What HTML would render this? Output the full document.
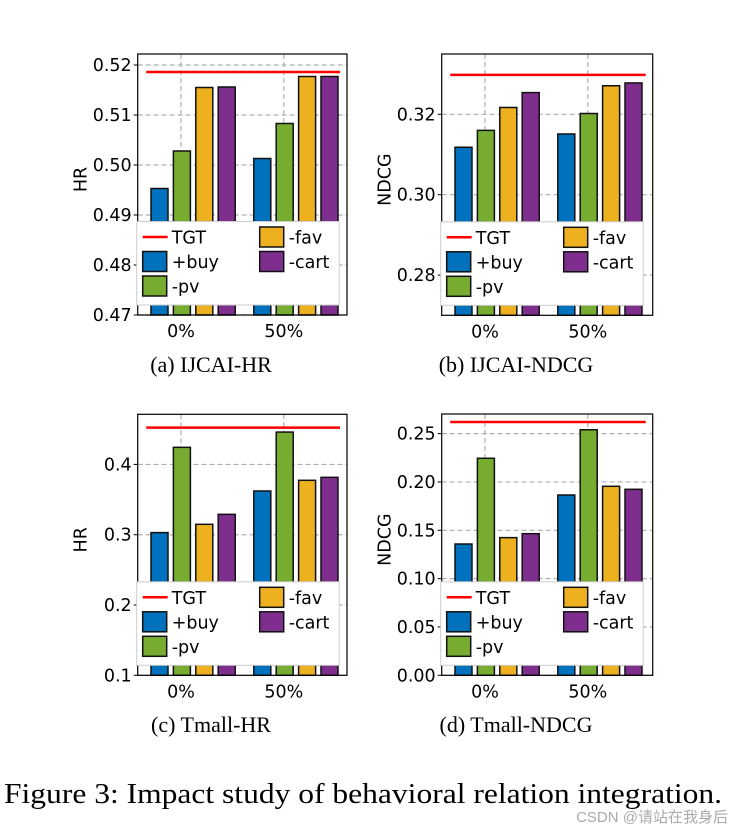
<!DOCTYPE html>
<html><head><meta charset="utf-8"><style>
body{margin:0;background:#fff;width:744px;height:833px;overflow:hidden}
svg text{font-family:"DejaVu Sans","Liberation Sans",sans-serif}
</style></head><body>
<svg id="fig" width="744" height="833" xmlns="http://www.w3.org/2000/svg">
<text x="211" y="372" font-size="22" text-anchor="middle" style="font-family:'Liberation Serif',serif">(a)  IJCAI-HR</text>
<text x="516" y="372" font-size="22" text-anchor="middle" style="font-family:'Liberation Serif',serif">(b)  IJCAI-NDCG</text>
<text x="211" y="732" font-size="22" text-anchor="middle" style="font-family:'Liberation Serif',serif">(c)  Tmall-HR</text>
<text x="516" y="732" font-size="22" text-anchor="middle" style="font-family:'Liberation Serif',serif">(d)  Tmall-NDCG</text>
<text x="363" y="803" font-size="29" textLength="718" lengthAdjust="spacingAndGlyphs" text-anchor="middle" style="font-family:'Liberation Serif',serif">Figure 3: Impact study of behavioral relation integration.</text>
<text x="728" y="822" font-size="15" fill="#aaa" text-anchor="end" style="font-family:'Liberation Sans','Noto Sans CJK SC',sans-serif">CSDN @请站在我身后</text>
</svg>
<script>
const categories = ["0%", "50%"];
const seriesNames = ["+buy", "-pv", "-fav", "-cart"];
const colors = ["#0072BD", "#77AC30", "#EDB120", "#7E2F8E"];
const ijcaiHR = [[0.4953, 0.5013], [0.5028, 0.5083], [0.5155, 0.5177], [0.5156, 0.5177]];
const ijcaiHRTgt = 0.5186;
const ijcaiHRTicks = [0.47, 0.48, 0.49, 0.50, 0.51, 0.52];
const ijcaiNDCG = [[0.3118, 0.3151], [0.3160, 0.3202], [0.3217, 0.3271], [0.3254, 0.3278]];
const ijcaiNDCGTgt = 0.3298;
const ijcaiNDCGTicks = [0.28, 0.30, 0.32];
const tmallHR = [[0.303, 0.3622], [0.4243, 0.446], [0.3148, 0.3774], [0.329, 0.3816]];
const tmallHRTgt = 0.4523;
const tmallHRTicks = [0.1, 0.2, 0.3, 0.4];
const tmallNDCG = [[0.1358, 0.1865], [0.2245, 0.254], [0.1424, 0.1955], [0.1465, 0.1924]];
const tmallNDCGTgt = 0.262;
const tmallNDCGTicks = [0.00, 0.05, 0.10, 0.15, 0.20, 0.25];

const NS = "http://www.w3.org/2000/svg";
const svg = document.getElementById("fig");
function mk(tag, attrs, parent) {
  const e = document.createElementNS(NS, tag);
  for (const k in attrs) e.setAttribute(k, attrs[k]);
  (parent || svg).appendChild(e);
  return e;
}
function panel(id, box, ymin, ymax, ticks, dec, data, tgt, ylabel) {
  const g = mk("g", {});
  
  
  const [x0, x1, y0, y1] = box;
  const ys = v => y1 - (v - ymin) / (ymax - ymin) * (y1 - y0);
  const tick0 = x0 + 43.3, step = 102.8;
  const xs = i => tick0 + i * step;
  ticks.forEach(t => {
    const y = ys(t);
    const l = mk("line", {x1: x0, x2: x1, y1: y, y2: y, stroke: "#b0b0b0", "stroke-dasharray": "5,3", "stroke-width": 1.2}, g);
    
    
    mk("line", {x1: x0 - 4, x2: x0, y1: y, y2: y, stroke: "#000"}, g);
    const tx = mk("text", {x: x0 - 6, y: y + 6, "font-size": 17.5, "text-anchor": "end"}, g);
    tx.textContent = t.toFixed(dec);
    
    
  });
  categories.forEach((c, i) => {
    const x = xs(i);
    mk("line", {x1: x, x2: x, y1: y0, y2: y1, stroke: "#b0b0b0", "stroke-dasharray": "5,3", "stroke-width": 1.2}, g);
    const tx = mk("text", {x: x, y: y1 + 22, "font-size": 17.5, "text-anchor": "middle"}, g);
    tx.textContent = c;
    
    
  });
  data.forEach((ser, s) => {
    ser.forEach((v, i) => {
      const bx = xs(i) - 30 + s * 22.4;
      const r = mk("rect", {x: bx, y: ys(v), width: 17, height: y1 - ys(v), fill: colors[s], stroke: "#111", "stroke-width": 1.5}, g);
      
      
    });
  });
  const tl = mk("line", {x1: x0 + 8.5, x2: x1 - 7, y1: ys(tgt), y2: ys(tgt), stroke: "#ff0000", "stroke-width": 2.5}, g);
  
  
  mk("rect", {x: x0, y: y0, width: x1 - x0, height: y1 - y0, fill: "none", stroke: "#000", "stroke-width": 1.2}, g);
  const yl = mk("text", {x: 0, y: 0, "font-size": 17.5, "text-anchor": "middle", transform: `translate(${x0 - 51},${(y0 + y1) / 2 - 5}) rotate(-90)`}, g);
  yl.textContent = ylabel;
  
  
  const lx = x0 - 1, ly = y1 - 93.5;
  const lg = mk("g", {}, g);
  
  
  mk("rect", {x: lx, y: ly, width: 202.5, height: 83.5, fill: "#fff", stroke: "#ccc", "stroke-width": 1}, lg);
  mk("line", {x1: lx + 6, x2: lx + 31, y1: ly + 15.5, y2: ly + 15.5, stroke: "#ff0000", "stroke-width": 2.5}, lg);
  const entries = [["TGT", 0, 0, null], ["+buy", 0, 1, 0], ["-pv", 0, 2, 1], ["-fav", 1, 0, 2], ["-cart", 1, 1, 3]];
  entries.forEach(([name, col, row, ci]) => {
    const ex = lx + 6 + col * 117, ey = ly + 15.5 + row * 24.5;
    if (ci !== null) {
      mk("rect", {x: ex, y: ey - 10, width: 24, height: 20, fill: colors[ci], stroke: "#111", "stroke-width": 1.5}, lg);
    }
    const t = mk("text", {x: ex + 29, y: ey + 6.5, "font-size": 17.5}, lg);
    t.textContent = name;
    
    
  });
}
panel("ijcai-hr", [137.7, 347, 54, 315], 0.47, 0.5222, ijcaiHRTicks, 2, ijcaiHR, ijcaiHRTgt, "HR");
panel("ijcai-ndcg", [441.7, 652.7, 54, 315.3], 0.27, 0.335, ijcaiNDCGTicks, 2, ijcaiNDCG, ijcaiNDCGTgt, "NDCG");
panel("tmall-hr", [137.7, 347, 414.3, 675.3], 0.1, 0.4713, tmallHRTicks, 1, tmallHR, tmallHRTgt, "HR");
panel("tmall-ndcg", [441.7, 652.7, 414, 675.3], 0.0, 0.2703, tmallNDCGTicks, 2, tmallNDCG, tmallNDCGTgt, "NDCG");
</script>
</body></html>
